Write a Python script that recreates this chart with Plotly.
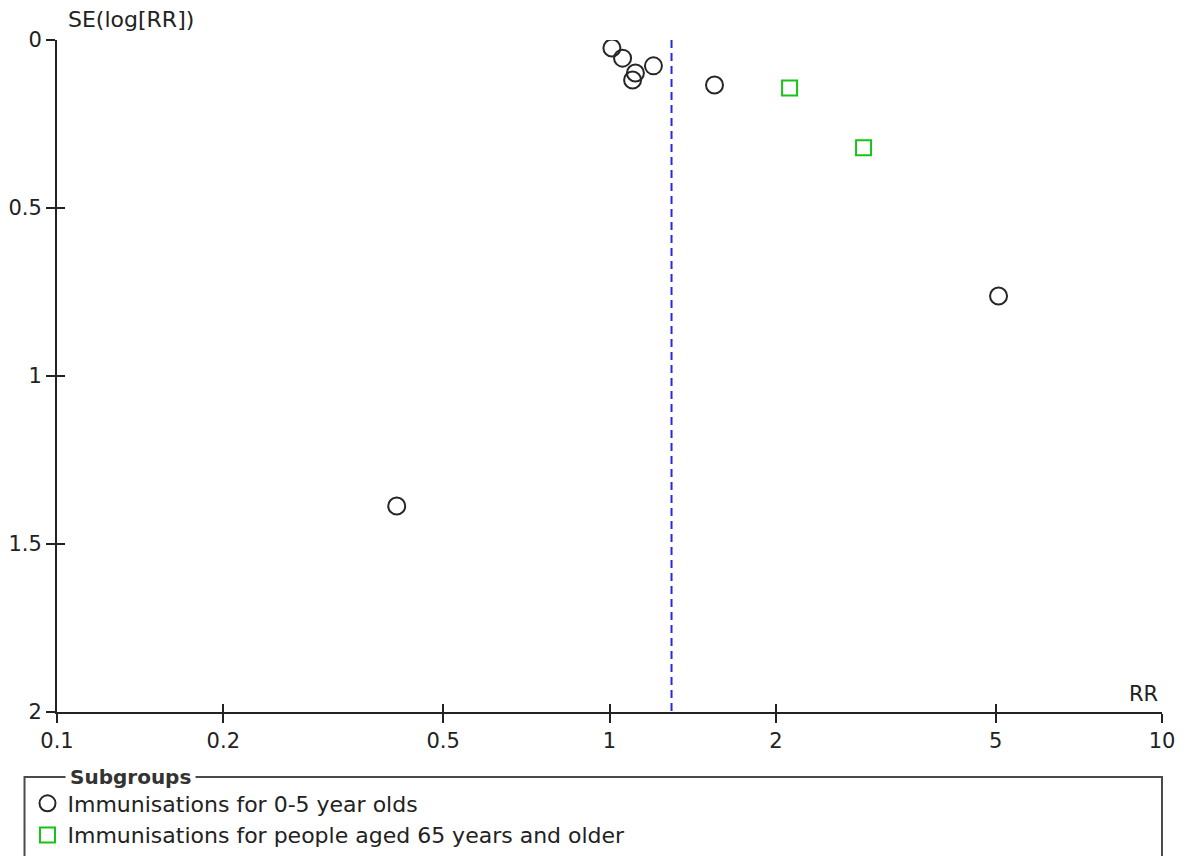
import plotly.graph_objects as go

# Study estimates: risk ratio and standard error of log(RR), by subgroup
child_rr = [1.01, 1.056, 1.114, 1.101, 1.201, 1.549, 5.06, 0.412]
child_se = [0.024, 0.054, 0.098, 0.119, 0.077, 0.134, 0.762, 1.387]
older_rr = [2.118, 2.883]
older_se = [0.143, 0.321]

pooled_rr = 1.295
se_span = [0, 2]

x_ticks = [0.1, 0.2, 0.5, 1, 2, 5, 10]
x_ticktext = ["0.1", "0.2", "0.5", "1", "2", "5", "10"]
y_ticks = [0, 0.5, 1, 1.5, 2]
y_ticktext = ["0", "0.5", "1", "1.5", "2"]

subgroup_names = ["Immunisations for 0-5 year olds",
                  "Immunisations for people aged 65 years and older"]

FONT = "DejaVu Sans"
AXIS_COLOR = "#222222"

fig = go.Figure()

# pooled effect reference line
fig.add_trace(go.Scatter(
    x=[pooled_rr, pooled_rr], y=se_span, mode="lines",
    line=dict(color="#2828e0", width=2, dash="8px,5px"),
    showlegend=False, hoverinfo="skip"))

fig.add_trace(go.Scatter(
    x=child_rr, y=child_se, mode="markers", name=subgroup_names[0],
    marker=dict(symbol="circle-open", size=17, color="#262626",
                line=dict(width=2, color="#262626"))))

fig.add_trace(go.Scatter(
    x=older_rr, y=older_se, mode="markers", name=subgroup_names[1],
    marker=dict(symbol="square-open", size=15, color="#16c416",
                line=dict(width=2, color="#16c416"))))

# empty trace so the overlay axes (inward tick halves) are drawn
fig.add_trace(go.Scatter(x=[], y=[], xaxis="x2", yaxis="y2",
                         showlegend=False, hoverinfo="skip"))

axis_common = dict(showgrid=False, zeroline=False, showline=True,
                   linecolor=AXIS_COLOR, linewidth=2,
                   tickcolor=AXIS_COLOR, tickwidth=2, ticklen=9,
                   tickfont=dict(family=FONT, size=21, color=AXIS_COLOR))

fig.update_layout(
    width=1186, height=856,
    margin=dict(l=57, r=24, t=40, b=144, autoexpand=False),
    paper_bgcolor="white", plot_bgcolor="white",
    font=dict(family=FONT, color=AXIS_COLOR),
    xaxis=dict(type="log", range=[-1, 1], tickvals=x_ticks, ticktext=x_ticktext,
               ticks="outside", **axis_common),
    yaxis=dict(range=[2, 0], tickvals=y_ticks, ticktext=y_ticktext,
               ticks="outside", **axis_common),
    xaxis2=dict(type="log", range=[-1, 1], overlaying="x", anchor="y2",
                tickvals=x_ticks, ticks="inside", ticklen=8, tickwidth=2,
                tickcolor=AXIS_COLOR, showticklabels=False, showgrid=False,
                zeroline=False, showline=False, side="bottom"),
    yaxis2=dict(range=[2, 0], overlaying="y", anchor="x2",
                tickvals=y_ticks, ticks="inside", ticklen=8, tickwidth=2,
                tickcolor=AXIS_COLOR, showticklabels=False, showgrid=False,
                zeroline=False, showline=False, side="left"),
    showlegend=True,
    legend=dict(x=-0.0267, y=-0.1049, xanchor="left", yanchor="top",
                bgcolor="rgba(0,0,0,0)", borderwidth=0,
                font=dict(family=FONT, size=22, color=AXIS_COLOR),
                tracegroupgap=0, itemwidth=30),
)

# axis titles
fig.add_annotation(text="SE(log[RR])", xref="paper", yref="paper",
                   x=0.0077, y=1.0298, xanchor="left", yanchor="middle",
                   showarrow=False, font=dict(family=FONT, size=22, color=AXIS_COLOR))
fig.add_annotation(text="RR", xref="paper", yref="paper",
                   x=0.9982, y=0.0268, xanchor="right", yanchor="middle",
                   showarrow=False, font=dict(family=FONT, size=21, color=AXIS_COLOR))

# legend frame with its caption set into the top border
fig.add_shape(type="rect", xref="paper", yref="paper",
              x0=-0.0294, x1=1.0, y0=-0.0967, y1=-0.35,
              line=dict(color="#4a4a4a", width=2), fillcolor="rgba(0,0,0,0)")
fig.add_annotation(text="<b>Subgroups</b>", xref="paper", yref="paper",
                   x=0.0068, y=-0.0967, xanchor="left", yanchor="middle",
                   showarrow=False, bgcolor="white", borderpad=4,
                   font=dict(family=FONT, size=20, color="#333333"))

fig.write_html("out.html")
